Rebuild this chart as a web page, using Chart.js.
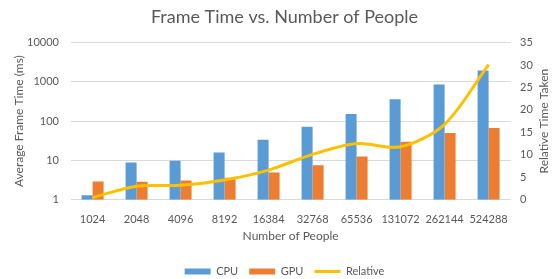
<!DOCTYPE html>
<html>
<head>
<meta charset="utf-8">
<script src="https://cdn.jsdelivr.net/npm/chart.js@4.4.0/dist/chart.umd.min.js"></script>
<style>
  html, body { margin: 0; padding: 0; background: #fff; }
  #wrap { width: 560px; height: 279px; }
</style>
</head>
<body>
<div id="wrap"><canvas id="frameChart"></canvas></div>
<script>
const people = ["1024", "2048", "4096", "8192", "16384", "32768", "65536", "131072", "262144", "524288"];
const cpuTimes = [1.3, 8.9, 9.8, 15.8, 33.6, 71.5, 151, 361, 863, 1940];
const gpuTimes = [2.9, 2.85, 3.1, 3.6, 4.9, 7.5, 12.6, 30, 50, 67];
const relative = [0.5, 3.0, 3.2, 4.4, 6.6, 10.1, 12.5, 11.8, 16.8, 30.1];
const logTicks = [1, 10, 100, 1000, 10000];

const fontFamily = "Lato, 'Open Sans', sans-serif";
const grey = "#595959";

Chart.defaults.font.family = fontFamily;
Chart.defaults.color = grey;

// right axis title reads bottom-to-top like the left one
const rightTitle = {
    id: "rightTitle",
    afterDraw(chart) {
        const c = chart.ctx;
        const area = chart.chartArea;
        c.save();
        c.translate(544.5, (area.top + area.bottom) / 2);
        c.rotate(-Math.PI / 2);
        c.fillStyle = grey;
        c.font = "12px " + fontFamily;
        c.textAlign = "center";
        c.textBaseline = "middle";
        c.fillText("Relative Time Taken", 0, 0);
        c.restore();
    },
};

const ctx = document.getElementById("frameChart").getContext("2d");

window.frameChart = new Chart(ctx, {
    type: "bar",
    data: {
        labels: people,
        datasets: [
            {
                label: "CPU",
                data: cpuTimes,
                backgroundColor: "#5B9BD5",
                yAxisID: "y",
                order: 1,
                categoryPercentage: 0.5,
                barPercentage: 1.0,
            },
            {
                label: "GPU",
                data: gpuTimes,
                backgroundColor: "#ED7D31",
                yAxisID: "y",
                order: 1,
                categoryPercentage: 0.5,
                barPercentage: 1.0,
            },
            {
                type: "line",
                label: "Relative",
                data: relative,
                borderColor: "#FFC000",
                backgroundColor: "#FFC000",
                borderWidth: 3,
                pointRadius: 0,
                tension: 0.3,
                yAxisID: "y1",
                order: 0,
            },
        ],
    },
    plugins: [rightTitle],
    options: {
        responsive: true,
        maintainAspectRatio: false,
        animation: false,
        layout: { padding: { top: 0, left: 9, right: 0, bottom: -8 } },
        plugins: {
            title: {
                display: true,
                text: "Frame Time vs. Number of People",
                color: grey,
                font: { size: 18, weight: "normal" },
                padding: { top: 6, bottom: 15 },
            },
            legend: {
                position: "bottom",
                labels: {
                    usePointStyle: true,
                    pointStyleWidth: 26,
                    boxHeight: 6,
                    padding: 11,
                    color: grey,
                    font: { size: 11 },
                    sort: (a, b) => a.datasetIndex - b.datasetIndex,
                    generateLabels: (chart) => {
                        const items = Chart.defaults.plugins.legend.labels.generateLabels(chart);
                        items.forEach((it) => {
                            const ds = chart.data.datasets[it.datasetIndex];
                            if (ds.type === "line") {
                                it.pointStyle = "line";
                                it.lineWidth = 3;
                                it.strokeStyle = "#FFC000";
                            } else {
                                it.pointStyle = "rect";
                                it.lineWidth = 0;
                            }
                        });
                        return items;
                    },
                },
            },
            tooltip: { enabled: false },
        },
        scales: {
            x: {
                grid: { display: false },
                border: { display: false },
                ticks: { padding: 4.7, font: { size: 11 }, maxRotation: 0, autoSkip: false },
                title: {
                    display: true,
                    text: "Number of People",
                    font: { size: 12 },
                    padding: { top: 0, bottom: 12.1 },
                },
                afterFit: (s) => { s.height = 55.3; },
            },
            y: {
                type: "logarithmic",
                position: "left",
                min: 1,
                max: 10000,
                afterBuildTicks: (s) => { s.ticks = logTicks.map((v) => ({ value: v })); },
                grid: { color: "#D9D9D9", drawTicks: false },
                border: { display: false },
                ticks: { padding: 11.6, font: { size: 11 }, callback: (v) => String(v) },
                title: {
                    display: true,
                    text: "Average Frame Time (ms)",
                    font: { size: 12 },
                    padding: { top: 2.8, bottom: 0 },
                },
                afterFit: (s) => { s.width = 61.6; },
            },
            y1: {
                position: "right",
                min: 0,
                max: 35,
                grid: { display: false, drawTicks: false },
                border: { display: false },
                ticks: { stepSize: 5, padding: 9.5, font: { size: 11 } },
                afterFit: (s) => { s.width = 49.4; },
            },
        },
    },
});
</script>
</body>
</html>
